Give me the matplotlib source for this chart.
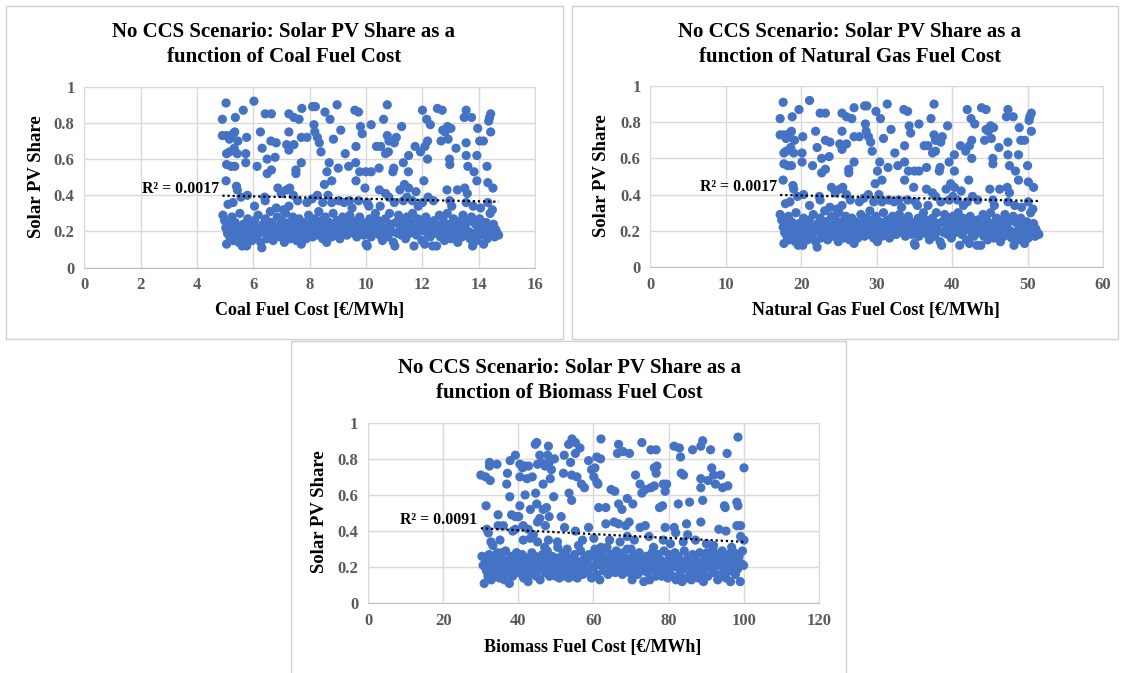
import numpy as np
import matplotlib
matplotlib.use("Agg")
import matplotlib.pyplot as plt
from matplotlib.patches import Rectangle
from matplotlib.ticker import FuncFormatter, MultipleLocator

W, H = 1123, 673
BLUE = "#4472C4"
GRID = "#d9d9d9"
TICK_GREY = "#595959"

# ---- Coal panel (the natural gas panel uses the same runs) ----
coal_cost_upper = [
    5.03, 6.02, 4.90, 5.36, 5.64, 6.42, 6.64, 7.26, 7.44, 7.62,
    7.72, 8.10, 8.20, 8.54, 8.72, 8.97, 9.60, 9.73, 10.75, 10.62,
    11.26, 12.00, 12.15, 12.28, 12.53, 12.70, 13.55, 13.74, 13.48, 14.38,
    14.42, 14.35, 13.96, 14.42, 4.90, 5.05, 5.15, 5.28, 5.34, 5.45,
    5.76, 6.25, 6.31, 6.62, 6.81, 7.26, 7.18, 7.26, 7.44, 7.70,
    7.90, 8.15, 8.18, 8.27, 8.34, 8.40, 8.84, 9.10, 9.26, 9.64,
    9.80, 9.86, 10.18, 10.37, 10.52, 10.75, 10.81, 10.69, 10.79, 11.00,
    11.07, 11.32, 11.51, 11.74, 11.93, 12.09, 12.18, 12.18, 12.66, 12.72,
    12.89, 12.91, 13.01, 12.96, 12.97, 13.19, 13.55, 13.55, 13.93, 14.03,
    14.16, 13.61, 13.83, 13.93, 14.29, 14.32, 14.50, 5.05, 5.15, 5.32,
    5.43, 5.73, 5.05, 5.21, 5.34, 5.73, 6.13, 6.49, 6.49, 6.64,
    6.77, 7.70, 7.51, 7.51, 5.03, 8.69, 8.61, 8.78, 9.01, 9.38,
    9.63, 9.64, 9.77, 9.99, 10.18, 10.46, 10.98, 10.95, 11.50, 12.05,
    8.52, 9.96, 10.47, 10.69, 11.20, 11.36, 11.51, 11.77, 12.87, 13.24,
    13.50, 13.59, 5.40, 5.43, 6.87, 7.18, 7.29, 6.99, 7.42, 12.80,
    5.28, 5.56, 5.79, 6.04, 6.40, 6.42, 6.81, 7.06, 7.26, 7.57,
    7.90, 8.08, 8.27, 8.46, 8.65, 8.78, 9.03, 9.22, 9.41, 9.73,
    10.04, 10.10, 10.50, 10.81, 11.00, 11.32, 11.45, 11.64, 12.00, 12.20,
    12.39, 12.97, 13.04, 13.55, 13.80, 14.06, 14.32, 5.10, 9.50, 11.85,
]
share_upper = [
    0.91, 0.92, 0.82, 0.83, 0.87, 0.85, 0.85, 0.85, 0.83, 0.82,
    0.88, 0.89, 0.89, 0.86, 0.82, 0.90, 0.87, 0.86, 0.90, 0.82,
    0.78, 0.87, 0.82, 0.79, 0.88, 0.87, 0.87, 0.83, 0.83, 0.83,
    0.85, 0.81, 0.77, 0.75, 0.73, 0.73, 0.71, 0.74, 0.75, 0.70,
    0.72, 0.75, 0.66, 0.70, 0.69, 0.75, 0.68, 0.65, 0.68, 0.72,
    0.72, 0.79, 0.75, 0.72, 0.69, 0.64, 0.71, 0.76, 0.63, 0.67,
    0.78, 0.74, 0.79, 0.67, 0.67, 0.73, 0.70, 0.63, 0.64, 0.69,
    0.72, 0.58, 0.62, 0.67, 0.64, 0.67, 0.70, 0.60, 0.70, 0.76,
    0.78, 0.71, 0.77, 0.60, 0.57, 0.66, 0.69, 0.62, 0.62, 0.70,
    0.70, 0.56, 0.53, 0.48, 0.56, 0.47, 0.44, 0.63, 0.64, 0.66,
    0.63, 0.63, 0.57, 0.56, 0.56, 0.58, 0.56, 0.60, 0.52, 0.54,
    0.61, 0.58, 0.54, 0.52, 0.48, 0.58, 0.53, 0.48, 0.55, 0.56,
    0.58, 0.48, 0.53, 0.53, 0.53, 0.55, 0.55, 0.53, 0.53, 0.48,
    0.46, 0.44, 0.43, 0.41, 0.43, 0.46, 0.44, 0.42, 0.43, 0.43,
    0.44, 0.41, 0.45, 0.43, 0.44, 0.43, 0.44, 0.41, 0.40, 0.75,
    0.36, 0.39, 0.40, 0.34, 0.39, 0.37, 0.33, 0.32, 0.34, 0.37,
    0.36, 0.38, 0.40, 0.36, 0.40, 0.36, 0.37, 0.36, 0.37, 0.37,
    0.36, 0.34, 0.34, 0.39, 0.36, 0.37, 0.39, 0.37, 0.36, 0.39,
    0.37, 0.37, 0.34, 0.36, 0.34, 0.33, 0.36, 0.35, 0.33, 0.34,
]
coal_cost_band = [
    4.92, 4.98, 5.02, 5.05, 5.08, 5.12, 5.16, 5.20, 5.24, 5.27, 5.31, 5.35,
    5.39, 5.44, 5.48, 5.52, 5.55, 5.60, 5.64, 5.68, 5.72, 5.76, 5.80, 5.85,
    5.90, 5.95, 6.00, 6.04, 6.08, 6.13, 6.17, 6.21, 6.26, 6.30, 6.34,
    6.38, 6.43, 6.47, 6.52, 6.56, 6.60, 6.65, 6.70, 6.75, 6.80, 6.85,
    6.90, 6.95, 7.00, 7.05, 7.10, 7.14, 7.18, 7.22, 7.27, 7.31, 7.35, 7.40,
    7.44, 7.48, 7.53, 7.57, 7.62, 7.66, 7.70, 7.74, 7.78, 7.83, 7.87,
    7.92, 7.96, 8.00, 8.05, 8.10, 8.14, 8.18, 8.23, 8.27, 8.32, 8.36,
    8.41, 8.46, 8.50, 8.55, 8.60, 8.64, 8.69, 8.73, 8.78, 8.83, 8.87,
    8.92, 8.97, 9.02, 9.07, 9.12, 9.17, 9.22, 9.27, 9.32, 9.37,
    9.42, 9.47, 9.52, 9.57, 9.62, 9.67, 9.72, 9.77, 9.82, 9.87,
    9.92, 9.97, 10.00, 10.04, 10.08, 10.13, 10.18, 10.23, 10.28, 10.33, 10.38,
    10.43, 10.48, 10.53, 10.58, 10.63, 10.68, 10.73, 10.78, 10.83, 10.88,
    10.92, 10.97, 11.02, 11.06, 11.10, 11.15, 11.20, 11.25, 11.30, 11.35, 11.40,
    11.45, 11.50, 11.55, 11.60, 11.65, 11.70, 11.74, 11.79, 11.84, 11.89,
    11.94, 11.98, 12.03, 12.08, 12.12, 12.17, 12.22, 12.27, 12.32, 12.36, 12.41,
    12.46, 12.50, 12.55, 12.60, 12.64, 12.69, 12.74, 12.78, 12.83, 12.88,
    12.92, 12.96, 13.01, 13.06, 13.10, 13.15, 13.20, 13.25, 13.30, 13.35, 13.40,
    13.44, 13.49, 13.54, 13.59, 13.64, 13.69, 13.74, 13.78, 13.83, 13.88,
    13.93, 13.98, 14.03, 14.08, 14.12, 14.17, 14.22, 14.26, 14.30,
    14.35, 14.40, 14.44, 14.48, 14.52, 14.56, 14.60, 14.65, 14.70,
]
share_band = [
    0.29, 0.26, 0.22, 0.13, 0.19, 0.24, 0.17, 0.21, 0.28, 0.15, 0.20, 0.25,
    0.18, 0.22, 0.14, 0.30, 0.19, 0.12, 0.24, 0.16, 0.21, 0.12, 0.27, 0.18,
    0.23, 0.15, 0.20, 0.26, 0.17, 0.22, 0.29, 0.19, 0.14, 0.11, 0.24,
    0.20, 0.27, 0.16, 0.22, 0.18, 0.31, 0.25, 0.15, 0.21, 0.19, 0.28,
    0.23, 0.17, 0.26, 0.20, 0.14, 0.30, 0.22, 0.18, 0.25, 0.16, 0.21, 0.28,
    0.19, 0.24, 0.15, 0.20, 0.27, 0.22, 0.13, 0.18, 0.25, 0.20, 0.16,
    0.23, 0.29, 0.19, 0.25, 0.17, 0.21, 0.27, 0.18, 0.23, 0.31, 0.20,
    0.26, 0.16, 0.22, 0.28, 0.14, 0.19, 0.25, 0.21, 0.17, 0.30, 0.23,
    0.19, 0.26, 0.21, 0.16, 0.24, 0.28, 0.20, 0.25, 0.18, 0.23,
    0.29, 0.21, 0.26, 0.19, 0.24, 0.17, 0.22, 0.28, 0.20, 0.25,
    0.18, 0.23, 0.13, 0.12, 0.21, 0.27, 0.17, 0.24, 0.20, 0.30, 0.22,
    0.26, 0.18, 0.23, 0.15, 0.20, 0.27, 0.22, 0.17, 0.30, 0.24,
    0.20, 0.14, 0.12, 0.25, 0.19, 0.29, 0.23, 0.18, 0.26, 0.21, 0.16,
    0.28, 0.23, 0.19, 0.25, 0.30, 0.12, 0.22, 0.18, 0.27, 0.20,
    0.25, 0.15, 0.22, 0.13, 0.28, 0.19, 0.24, 0.17, 0.21, 0.12, 0.26,
    0.19, 0.12, 0.23, 0.29, 0.17, 0.21, 0.26, 0.15, 0.22, 0.30,
    0.19, 0.24, 0.16, 0.21, 0.27, 0.18, 0.23, 0.14, 0.20, 0.26, 0.17,
    0.29, 0.22, 0.18, 0.25, 0.20, 0.16, 0.28, 0.12, 0.19, 0.24,
    0.15, 0.21, 0.27, 0.18, 0.23, 0.13, 0.20, 0.25, 0.16,
    0.22, 0.30, 0.19, 0.32, 0.24, 0.17, 0.21, 0.19, 0.18,
]

# ---- Natural gas costs for the same runs ----
gas_cost_upper = [
    17.6, 21.1, 17.2, 18.8, 19.7, 22.5, 23.2, 25.4, 26.0, 26.7,
    27.0, 28.4, 28.7, 29.9, 30.5, 31.4, 33.6, 34.1, 37.6, 37.2,
    39.4, 42.0, 42.5, 43.0, 43.9, 44.5, 47.4, 48.1, 47.2, 50.3,
    50.5, 50.2, 48.9, 50.5, 17.2, 17.7, 18.0, 18.5, 18.7, 19.1,
    20.2, 21.9, 22.1, 23.2, 23.8, 25.4, 25.1, 25.4, 26.0, 27.0,
    27.7, 28.5, 28.6, 28.9, 29.2, 29.4, 30.9, 31.9, 32.4, 33.7,
    34.3, 34.5, 35.6, 36.3, 36.8, 37.6, 37.8, 37.4, 37.8, 38.5,
    38.7, 39.6, 40.3, 41.1, 41.8, 42.3, 42.6, 42.6, 44.3, 44.5,
    45.1, 45.2, 45.5, 45.4, 45.4, 46.2, 47.4, 47.4, 48.8, 49.1,
    49.6, 47.6, 48.4, 48.8, 50.0, 50.1, 50.8, 17.7, 18.0, 18.6,
    19.0, 20.1, 17.7, 18.2, 18.7, 20.1, 21.5, 22.7, 22.7, 23.2,
    23.7, 27.0, 26.3, 26.3, 17.6, 30.4, 30.1, 30.7, 31.5, 32.8,
    33.7, 33.7, 34.2, 35.0, 35.6, 36.6, 38.4, 38.3, 40.3, 42.2,
    29.8, 34.9, 36.6, 37.4, 39.2, 39.8, 40.3, 41.2, 45.0, 46.3,
    47.3, 47.6, 18.9, 19.0, 24.0, 25.1, 25.5, 24.5, 26.0, 44.8,
    18.5, 19.5, 20.3, 21.1, 22.4, 22.5, 23.8, 24.7, 25.4, 26.5,
    27.7, 28.3, 28.9, 29.6, 30.3, 30.7, 31.6, 32.3, 32.9, 34.1,
    35.1, 35.4, 36.8, 37.8, 38.5, 39.6, 40.1, 40.7, 42.0, 42.7,
    43.4, 45.4, 45.6, 47.4, 48.3, 49.2, 50.1, 17.9, 33.3, 41.5,
]
gas_cost_band = [
    17.2, 17.4, 17.6, 17.7, 17.8, 17.9, 18.1, 18.2, 18.3, 18.4, 18.6, 18.7,
    18.9, 19.0, 19.2, 19.3, 19.4, 19.6, 19.7, 19.9, 20.0, 20.2, 20.3, 20.5,
    20.7, 20.8, 21.0, 21.1, 21.3, 21.5, 21.6, 21.7, 21.9, 22.1, 22.2,
    22.3, 22.5, 22.6, 22.8, 23.0, 23.1, 23.3, 23.5, 23.6, 23.8, 24.0,
    24.2, 24.3, 24.5, 24.7, 24.9, 25.0, 25.1, 25.3, 25.4, 25.6, 25.7, 25.9,
    26.0, 26.2, 26.4, 26.5, 26.7, 26.8, 27.0, 27.1, 27.2, 27.4, 27.5,
    27.7, 27.9, 28.0, 28.2, 28.4, 28.5, 28.6, 28.8, 28.9, 29.1, 29.3,
    29.4, 29.6, 29.8, 29.9, 30.1, 30.2, 30.4, 30.6, 30.7, 30.9, 31.0,
    31.2, 31.4, 31.6, 31.7, 31.9, 32.1, 32.3, 32.4, 32.6, 32.8,
    33.0, 33.1, 33.3, 33.5, 33.7, 33.8, 34.0, 34.2, 34.4, 34.5,
    34.7, 34.9, 35.0, 35.1, 35.3, 35.5, 35.6, 35.8, 36.0, 36.2, 36.3,
    36.5, 36.7, 36.9, 37.0, 37.2, 37.4, 37.6, 37.7, 37.9, 38.1,
    38.2, 38.4, 38.6, 38.7, 38.9, 39.0, 39.2, 39.4, 39.6, 39.7, 39.9,
    40.1, 40.3, 40.4, 40.6, 40.8, 41.0, 41.1, 41.3, 41.4, 41.6,
    41.8, 41.9, 42.1, 42.3, 42.4, 42.6, 42.8, 42.9, 43.1, 43.3, 43.4,
    43.6, 43.8, 43.9, 44.1, 44.2, 44.4, 44.6, 44.7, 44.9, 45.1,
    45.2, 45.4, 45.5, 45.7, 45.9, 46.0, 46.2, 46.4, 46.6, 46.7, 46.9,
    47.0, 47.2, 47.4, 47.6, 47.7, 47.9, 48.1, 48.2, 48.4, 48.6,
    48.8, 48.9, 49.1, 49.3, 49.4, 49.6, 49.8, 49.9, 50.1,
    50.2, 50.4, 50.5, 50.7, 50.8, 51.0, 51.1, 51.3, 51.5,
]

# ---- Biomass panel ----
bio_cost_upper = [
    98.5, 100.1, 54.3, 55.2, 53.4, 62.0, 72.9, 66.7, 44.5, 44.9,
    48.0, 89.1, 88.6, 81.5, 82.9, 83.2, 86.4, 91.2, 95.6, 75.3,
    76.7, 66.4, 67.9, 69.6, 56.4, 55.2, 52.2, 45.7, 47.8, 49.6,
    39.2, 37.8, 32.3, 34.3, 32.3, 30.0, 31.3, 32.5, 37.1, 36.9,
    37.7, 40.4, 41.1, 41.8, 42.7, 40.4, 42.3, 43.7, 45.1, 46.1,
    47.1, 48.2, 48.8, 48.5, 46.6, 52.0, 53.9, 54.2, 55.6, 56.8,
    57.6, 58.7, 59.5, 60.1, 60.4, 60.9, 61.9, 60.9, 61.2, 53.5,
    54.2, 41.8, 44.6, 44.9, 40.4, 31.4, 49.4, 47.5, 46.6, 43.2,
    64.7, 65.7, 69.0, 66.7, 67.6, 70.5, 71.2, 72.4, 72.9, 73.8,
    75.3, 76.2, 76.2, 76.9, 76.7, 77.6, 78.4, 78.6, 79.5, 79.1,
    63.3, 61.4, 82.6, 85.6, 83.4, 84.0, 88.6, 88.6, 89.1, 90.5,
    91.5, 92.0, 92.5, 93.9, 94.4, 95.8, 94.9, 95.1, 98.2, 98.5,
    99.2, 98.2, 99.2, 100.1, 34.6, 38.2, 39.2, 40.1, 36.0, 34.6,
    41.3, 42.6, 39.2, 45.1, 45.7, 47.2, 48.2, 51.4, 52.3, 55.2,
    58.7, 63.3, 65.5, 66.7, 68.6, 69.5, 72.4, 73.8, 79.1, 81.5,
    84.8, 88.6, 81.9, 85.1, 93.4, 95.3, 32.0, 31.6, 32.7, 33.2,
    35.6, 41.3, 43.2, 45.1, 48.0, 50.4, 57.1, 60.1, 64.3, 67.1,
    69.0, 70.9, 74.8, 78.6, 80.5, 83.9, 87.2, 90.1, 92.0, 96.8,
    35.1, 38.5, 44.0, 47.0, 50.5, 53.0, 56.0, 62.0, 70.0, 76.0,
]
bio_share_upper = [
    0.92, 0.75, 0.91, 0.89, 0.88, 0.91, 0.89, 0.88, 0.88, 0.89,
    0.87, 0.90, 0.87, 0.87, 0.86, 0.81, 0.85, 0.85, 0.83, 0.85,
    0.85, 0.83, 0.84, 0.83, 0.86, 0.83, 0.82, 0.82, 0.82, 0.80,
    0.82, 0.79, 0.78, 0.77, 0.76, 0.71, 0.70, 0.68, 0.72, 0.66,
    0.59, 0.77, 0.75, 0.76, 0.76, 0.70, 0.69, 0.70, 0.77, 0.78,
    0.76, 0.78, 0.74, 0.69, 0.66, 0.72, 0.78, 0.71, 0.70, 0.66,
    0.64, 0.79, 0.74, 0.70, 0.75, 0.81, 0.80, 0.67, 0.66, 0.61,
    0.57, 0.60, 0.61, 0.55, 0.54, 0.54, 0.59, 0.53, 0.52, 0.52,
    0.63, 0.62, 0.58, 0.55, 0.52, 0.55, 0.71, 0.66, 0.61, 0.63,
    0.64, 0.65, 0.75, 0.76, 0.72, 0.53, 0.54, 0.66, 0.66, 0.62,
    0.53, 0.53, 0.55, 0.56, 0.72, 0.71, 0.69, 0.64, 0.57, 0.68,
    0.75, 0.71, 0.66, 0.71, 0.64, 0.65, 0.54, 0.53, 0.56, 0.54,
    0.43, 0.43, 0.37, 0.35, 0.49, 0.49, 0.48, 0.48, 0.43, 0.43,
    0.43, 0.41, 0.41, 0.45, 0.47, 0.43, 0.48, 0.48, 0.42, 0.40,
    0.42, 0.44, 0.45, 0.44, 0.43, 0.45, 0.42, 0.43, 0.42, 0.42,
    0.44, 0.45, 0.39, 0.38, 0.41, 0.40, 0.39, 0.41, 0.34, 0.32,
    0.28, 0.35, 0.36, 0.34, 0.35, 0.34, 0.35, 0.36, 0.35, 0.34,
    0.37, 0.35, 0.37, 0.35, 0.33, 0.34, 0.35, 0.33, 0.32, 0.31,
    0.35, 0.40, 0.38, 0.31, 0.31, 0.30, 0.32, 0.31, 0.30, 0.31,
]
bio_cost_band = [
    30.3, 30.6, 30.9, 31.2, 31.5, 31.9, 32.2, 32.5, 32.8, 33.1, 33.4, 33.8,
    34.1, 34.4, 34.7, 35.0, 35.3, 35.7, 36.0, 36.3, 36.6, 36.9, 37.2, 37.6,
    37.9, 38.2, 38.5, 38.8, 39.1, 39.5, 39.8,
    40.1, 40.4, 40.7, 41.0, 41.4, 41.7, 42.0, 42.3, 42.6, 42.9, 43.3, 43.6,
    43.9, 44.2, 44.5, 44.8, 45.2, 45.5, 45.8, 46.1, 46.4, 46.7, 47.1, 47.4,
    47.7, 48.0, 48.3, 48.6, 49.0, 49.3, 49.6,
    50.0, 50.3, 50.6, 50.9, 51.2, 51.5, 51.9, 52.2, 52.5, 52.8, 53.1, 53.4,
    53.8, 54.1, 54.4, 54.7, 55.0, 55.3, 55.7, 56.0, 56.3, 56.6, 56.9, 57.2,
    57.6, 57.9, 58.2, 58.5, 58.8, 59.1, 59.5,
    59.8, 60.1, 60.4, 60.8, 61.1, 61.4, 61.7, 62.0, 62.3, 62.7, 63.0, 63.3,
    63.6, 63.9, 64.2, 64.6, 64.9, 65.2, 65.5, 65.8, 66.1, 66.5, 66.8, 67.1,
    67.4, 67.7, 68.0, 68.4, 68.7, 69.0, 69.3,
    69.6, 69.9, 70.3, 70.6, 70.9, 71.2, 71.5, 71.8, 72.2, 72.5, 72.8, 73.1,
    73.4, 73.7, 74.1, 74.4, 74.7, 75.0, 75.3, 75.6, 76.0, 76.3, 76.6, 76.9,
    77.2, 77.5, 77.9, 78.2, 78.5, 78.8, 79.1,
    79.4, 79.8, 80.1, 80.4, 80.7, 81.0, 81.3, 81.7, 82.0, 82.3, 82.6, 82.9,
    83.2, 83.6, 83.9, 84.2, 84.5, 84.8, 85.1, 85.5, 85.8, 86.1, 86.4, 86.7,
    87.0, 87.4, 87.7, 88.0, 88.3, 88.6, 88.9,
    89.3, 89.6, 89.9, 90.2, 90.5, 90.8, 91.2, 91.5, 91.8, 92.1, 92.4, 92.7,
    93.1, 93.4, 93.7, 94.0, 94.3, 94.6, 95.0, 95.3, 95.6, 95.9, 96.2, 96.5,
    96.9, 97.2, 97.5, 97.8, 98.1, 98.4, 98.8, 99.1, 99.4, 99.7, 100.0,
]
bio_share_band = [
    0.26, 0.21, 0.11, 0.24, 0.18, 0.15, 0.27, 0.22, 0.13, 0.19, 0.25, 0.16,
    0.23, 0.28, 0.20, 0.14, 0.26, 0.18, 0.22, 0.13, 0.29, 0.17, 0.24, 0.11,
    0.20, 0.26, 0.15, 0.23, 0.18, 0.28, 0.21,
    0.17, 0.24, 0.19, 0.27, 0.14, 0.22, 0.18, 0.25, 0.12, 0.21, 0.16, 0.28,
    0.23, 0.19, 0.26, 0.15, 0.21, 0.25, 0.13, 0.19, 0.27, 0.22, 0.17, 0.24,
    0.29, 0.20, 0.15, 0.23, 0.26, 0.18, 0.22,
    0.15, 0.25, 0.20, 0.14, 0.23, 0.17, 0.28, 0.21, 0.15, 0.26, 0.19, 0.14,
    0.24, 0.18, 0.22, 0.15, 0.27, 0.20, 0.14, 0.23, 0.18, 0.29, 0.21, 0.16,
    0.25, 0.19, 0.23, 0.17, 0.27, 0.21, 0.14,
    0.26, 0.20, 0.30, 0.16, 0.23, 0.27, 0.13, 0.21, 0.28, 0.18, 0.24, 0.20,
    0.31, 0.16, 0.22, 0.27, 0.19, 0.25, 0.21, 0.17, 0.29, 0.23, 0.18, 0.26,
    0.21, 0.16, 0.28, 0.24, 0.19, 0.30, 0.22,
    0.17, 0.25, 0.13, 0.21, 0.27, 0.19, 0.23, 0.16, 0.28, 0.22, 0.18, 0.25,
    0.12, 0.20, 0.26, 0.17, 0.23, 0.13, 0.21, 0.28, 0.19, 0.24, 0.15, 0.22,
    0.27, 0.18, 0.24, 0.15, 0.20, 0.29, 0.17,
    0.23, 0.14, 0.27, 0.19, 0.25, 0.15, 0.22, 0.28, 0.13, 0.20, 0.26, 0.16,
    0.23, 0.12, 0.19, 0.29, 0.21, 0.14, 0.25, 0.18, 0.23, 0.13, 0.27, 0.20,
    0.16, 0.24, 0.19, 0.14, 0.28, 0.22, 0.17,
    0.12, 0.24, 0.20, 0.28, 0.15, 0.22, 0.26, 0.19, 0.30, 0.17, 0.23, 0.27,
    0.13, 0.21, 0.25, 0.16, 0.29, 0.20, 0.24, 0.14, 0.22, 0.27, 0.18, 0.12,
    0.25, 0.21, 0.28, 0.16, 0.23, 0.19, 0.26, 0.12, 0.22, 0.29, 0.21,
]

# Excel linear trendlines as shown on the chart: (slope, intercept)
coal_trend = (-0.00342, 0.4148)
gas_trend = (-0.00098, 0.4149)
bio_trend = (-0.00107, 0.4474)
coal_r2 = "R² = 0.0017"
gas_r2 = "R² = 0.0017"
bio_r2 = "R² = 0.0091"


def fig_xy(x, y):
    return x / W, 1 - y / H


def draw_panel(fig, frame, plot, cost, share, xmax, xstep, trend, r2, r2_at,
               title, title_x, title_y, xlabel, xlabel_at, ylabel_at):
    x0, y0, x1, y1 = frame
    fig.add_artist(Rectangle(fig_xy(x0, y1), (x1 - x0) / W, (y1 - y0) / H,
                             transform=fig.transFigure, fill=False,
                             edgecolor="#d0d0d0", linewidth=1))

    px0, py0, px1, py1 = plot
    ax = fig.add_axes([px0 / W, 1 - py1 / H, (px1 - px0) / W, (py1 - py0) / H])
    ax.scatter(cost, share, s=44, color=BLUE, edgecolors="none", zorder=3)

    xs = np.array([min(cost), max(cost)])
    ax.plot(xs, np.polyval(trend, xs), color="black", linewidth=1.6,
            linestyle=(0, (1, 1.3)), zorder=4)
    ax.text(r2_at[0], r2_at[1], r2, ha="right", va="baseline", fontsize=11.4, zorder=5)

    ax.set_xlim(0, xmax)
    ax.set_ylim(0, 1)
    ax.xaxis.set_major_locator(MultipleLocator(xstep))
    ax.yaxis.set_major_locator(MultipleLocator(0.2))
    fmt = FuncFormatter(lambda v, p: f"{v:g}")
    ax.xaxis.set_major_formatter(fmt)
    ax.yaxis.set_major_formatter(fmt)
    ax.grid(color=GRID, linewidth=1)
    ax.set_axisbelow(True)
    ax.tick_params(length=0, labelsize=12, labelcolor=TICK_GREY, pad=7)
    for sp in ax.spines.values():
        sp.set_color(GRID)
    ax.spines["bottom"].set_color("#bfbfbf")

    for i, line in enumerate(title):
        fig.text(*fig_xy(title_x, title_y[i]), line, ha="center", va="baseline",
                 fontsize=15)
    fig.text(*fig_xy(*xlabel_at), xlabel, ha="center", va="baseline", fontsize=13)
    fig.text(*fig_xy(*ylabel_at), "Solar PV Share", ha="center", va="center",
             rotation=90, fontsize=13.5)
    return ax


def main():
    plt.rcParams["font.family"] = ["Liberation Serif", "DejaVu Serif"]
    plt.rcParams["font.weight"] = "bold"

    fig = plt.figure(figsize=(W / 100, H / 100), dpi=100)

    draw_panel(fig, (6, 6, 563, 339), (84.3, 86.7, 535.2, 267.7),
               coal_cost_upper + coal_cost_band, share_upper + share_band,
               16, 2, coal_trend, coal_r2, (4.78, 0.414),
               ["No CCS Scenario: Solar PV Share as a", "function of Coal Fuel Cost"],
               284, (37.3, 62.3), "Coal Fuel Cost [€/MWh]", (310, 315), (36.7, 177))

    draw_panel(fig, (572, 6, 1118, 339), (650.4, 86, 1103, 267),
               gas_cost_upper + gas_cost_band, share_upper + share_band,
               60, 10, gas_trend, gas_r2, (16.74, 0.421),
               ["No CCS Scenario: Solar PV Share as a",
                "function of Natural Gas Fuel Cost"],
               850, (36.7, 61.7), "Natural Gas Fuel Cost [€/MWh]", (876, 315),
               (602, 176))

    draw_panel(fig, (291, 341, 846, 680), (368.2, 422.7, 818.7, 603.3),
               bio_cost_upper + bio_cost_band, bio_share_upper + bio_share_band,
               120, 20, bio_trend, bio_r2, (29.06, 0.437),
               ["No CCS Scenario: Solar PV Share as a",
                "function of Biomass Fuel Cost"],
               569, (373.3, 398.3), "Biomass Fuel Cost [€/MWh]", (593, 651.7),
               (320, 512))

    fig.savefig("out.png", dpi=100)
    plt.close(fig)


if __name__ == "__main__":
    main()
